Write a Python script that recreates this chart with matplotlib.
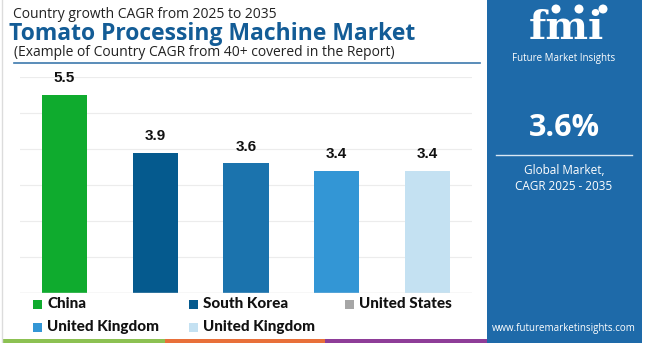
import matplotlib
matplotlib.use("Agg")
import matplotlib.pyplot as plt
from matplotlib.patches import Rectangle, Circle

# Country CAGR values, 2025-2035
countries = ["China", "South Korea", "United States", "United Kingdom", "United Kingdom"]
cagr = [5.5, 3.9, 3.6, 3.4, 3.4]
bar_colors = ["#0fab2e", "#055a8e", "#1b73ad", "#3396d5", "#c4e1f2"]
legend_colors = ["#0fab2e", "#055a8e", "#a6a6a6", "#3396d5", "#c4e1f2"]
y_ticks = [0, 1, 2, 3, 4, 5, 6]

global_cagr = "3.6%"
title_small = "Country growth CAGR from 2025 to 2035"
title_main = "Tomato Processing Machine Market"
title_sub = "(Example of Country CAGR from 40+ covered in the Report)"

W, H = 650, 343
fig = plt.figure(figsize=(W / 100, H / 100), dpi=100)
fig.patch.set_facecolor("white")

# Bar chart area
ax = fig.add_axes([20 / W, (H - 293) / H, (472 - 20) / W, (293 - 77) / H])
x = list(range(len(cagr)))
ax.bar(x, cagr, width=0.5, color=bar_colors, zorder=3)
for xi, v in zip(x, cagr):
    ax.annotate(f"{v}", (xi, v), xytext=(0, 7), textcoords="offset points",
                ha="center", va="bottom", fontsize=11, fontweight="bold",
                family="Liberation Sans", color="#111111")
ax.set_xlim(-0.49, len(cagr) - 1 + 0.49)
ax.set_ylim(0, 6)
ax.set_yticks(y_ticks)
ax.grid(axis="y", color="#ececec", linewidth=0.8, zorder=0)
ax.tick_params(left=False, bottom=False, labelleft=False, labelbottom=False)
for s in ax.spines.values():
    s.set_visible(False)
ax.axhline(0, color="#e2e2e2", linewidth=1, zorder=4)

# Decoration layer in pixel coordinates
top = fig.add_axes([0, 0, 1, 1], zorder=5)
top.set_xlim(0, W)
top.set_ylim(H, 0)
top.axis("off")
top.patch.set_alpha(0)

# left border and title underline
top.plot([2, 2], [0, H], color="#dcdcdc", lw=1)
top.plot([14, 480], [63, 63], color="#3d79ad", lw=1.2)

top.text(13, 15, title_small, fontsize=10, family="Open Sans", color="#222222",
         va="center", ha="left")
top.text(9, 34, title_main, fontsize=16.5, family="Open Sans", fontweight="bold",
         color="#135c96", va="center", ha="left")
top.text(14, 53, title_sub, fontsize=10, family="Open Sans", color="#222222",
         va="center", ha="left")

# bottom colour strip
for x0, x1, c in [(3, 165, "#8cc152"), (165, 325, "#e8703a"), (325, 487, "#8e3d98")]:
    top.add_patch(Rectangle((x0, 339), x1 - x0, 4, color=c, lw=0))

# legend
leg_x = [33, 189, 345]
leg_y = [304, 327]
for i, (lab, col) in enumerate(zip(countries, legend_colors)):
    r, c = divmod(i, 3)
    top.add_patch(Rectangle((leg_x[c], leg_y[r] - 4.5), 9, 9, color=col, lw=0))
    top.text(leg_x[c] + 14, leg_y[r], lab, fontsize=11, fontweight="black",
             family="Lato", color="#111111", va="center", ha="left")

# right panel
panel_c = "#1e6aa9"
top.add_patch(Rectangle((487, 0), 155, H, color=panel_c, lw=0))
top.text(566, 28, "fmi", fontsize=29, fontweight="bold", family="DejaVu Serif",
         color="white", ha="center", va="center")
for yy in range(15, 48, 3):
    top.plot([505, 625], [yy, yy], color=panel_c, lw=0.6)
for cx in [556, 579, 603]:
    top.add_patch(Circle((cx, 9), 4.5, color="white", lw=0))
top.text(564, 58, "Future Market Insights", fontsize=7, family="Open Sans",
         color="white", ha="center", va="center")
top.text(564, 128, global_cagr, fontsize=22, fontweight="bold", family="Open Sans",
         color="white", ha="center", va="center")
top.plot([496, 632], [155, 155], color="#d9e7f3", lw=1)
top.text(564, 170, "Global Market,", fontsize=8.5, family="Open Sans",
         color="white", ha="center", va="center")
top.text(564, 186, "CAGR 2025 - 2035", fontsize=8.5, family="Open Sans",
         color="white", ha="center", va="center")
top.text(564, 328, "www.futuremarketinsights.com", fontsize=7, family="Open Sans",
         color="white", ha="center", va="center")

fig.savefig("out.png", dpi=100)
